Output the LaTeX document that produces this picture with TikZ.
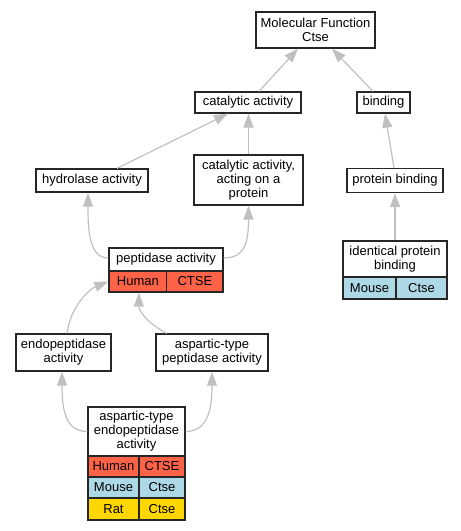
\documentclass[tikz,border=0pt]{standalone}
\usepackage{fontspec}
\setmainfont{Liberation Sans}
\usetikzlibrary{arrows.meta}
\definecolor{edgegray}{RGB}{192,192,192}
\definecolor{human}{RGB}{255,99,71}
\definecolor{mouse}{RGB}{173,216,230}
\definecolor{rat}{RGB}{255,215,0}
\newcommand\boxfont{\fontsize{13}{14}\selectfont}
\begin{document}
\begin{tikzpicture}[x=1pt,y=-1pt,
  box/.style={draw=black!85, line width=1.3pt, fill=white, inner sep=0pt, align=center, font=\boxfont},
  cell/.style={box, font=\boxfont},
  edge/.style={draw=edgegray, line width=1.2pt, -{Triangle[length=14pt,width=10pt,fill=edgegray]}}
]
\useasboundingbox (0,0) rectangle (461,531);
% nodes
\node[box, minimum width=119pt, minimum height=36pt] (mf) at (315.5,30) {Molecular Function\\Ctse};
\node[box, minimum width=106pt, minimum height=21pt] (cat) at (248,102.5) {catalytic activity};
\node[box, minimum width=53pt, minimum height=21pt] (bind) at (383.5,102.5) {binding};
\node[box, minimum width=109pt, minimum height=50pt] (catp) at (248.5,180) {catalytic activity,\\acting on a\\protein};
\node[box, minimum width=96pt, minimum height=24pt] (pbind) at (395,180.5) {protein binding};
\node[box, minimum width=112pt, minimum height=23pt] (hyd) at (92,180.5) {hydrolase activity};
% peptidase activity table
\node[box, minimum width=114pt, minimum height=23pt] (pephead) at (166,259.5) {peptidase activity};
\node[cell, fill=human, minimum width=57.7pt, minimum height=21pt] (pephuman) at (137.85,281.5) {Human};
\node[cell, fill=human, minimum width=56.3pt, minimum height=21pt] (pepctse) at (194.85,281.5) {CTSE};
% identical protein binding table
\node[box, minimum width=104pt, minimum height=36pt] (ipb) at (395,259) {identical protein\\binding};
\node[cell, fill=mouse, minimum width=53pt, minimum height=22pt] (ipbmouse) at (369.5,288) {Mouse};
\node[cell, fill=mouse, minimum width=51pt, minimum height=22pt] (ipbctse) at (421.5,288) {Ctse};
% endopeptidase / aspartic-type peptidase
\node[box, minimum width=95pt, minimum height=37pt] (endo) at (63.5,352.5) {endopeptidase\\activity};
\node[box, minimum width=112pt, minimum height=37pt] (asp) at (212,352.5) {aspartic-type\\peptidase activity};
% aspartic-type endopeptidase activity table
\node[box, minimum width=97pt, minimum height=49pt] (aspehead) at (136.5,431.5) {aspartic-type\\endopeptidase\\activity};
\node[cell, fill=human, minimum width=51pt, minimum height=21pt] (aspehuman) at (113.5,466.5) {Human};
\node[cell, fill=human, minimum width=46pt, minimum height=21pt] (aspehctse) at (162,466.5) {CTSE};
\node[cell, fill=mouse, minimum width=51pt, minimum height=21pt] (aspemouse) at (113.5,487.5) {Mouse};
\node[cell, fill=mouse, minimum width=46pt, minimum height=21pt] (aspemctse) at (162,487.5) {Ctse};
\node[cell, fill=rat, minimum width=51pt, minimum height=22pt] (asperat) at (113.5,509) {Rat};
\node[cell, fill=rat, minimum width=46pt, minimum height=22pt] (asperctse) at (162,509) {Ctse};
% edges
\draw[edge] ([xshift=11pt]cat.north) -- ([xshift=-17.5pt]mf.south);
\draw[edge] ([xshift=-10.5pt]bind.north) -- ([xshift=16.5pt]mf.south);
\draw[edge] ([xshift=25pt]hyd.north) -- ([xshift=-20pt]cat.south);
\draw[edge] (catp.north) -- (catp.north |- cat.south);
\draw[edge] ([xshift=-1pt]pbind.north) -- ([xshift=1.5pt]bind.south);
\draw[edge] (ipb.north) -- (pbind.south);
\draw[edge] ([yshift=1.5pt]pephead.west) .. controls +(-20,0) and +(0,35) .. ([xshift=-4pt]hyd.south);
\draw[edge] ([yshift=1.5pt]pephead.east) .. controls +(22,0) and +(0,35) .. (catp.south);
\draw[edge] ([xshift=3.5pt]endo.north) .. controls +(3,-25) and +(-20,8) .. (pephuman.west);
\draw[edge] ([xshift=-45pt]asp.north) .. controls +(-20,-10) and +(0,18) .. ([xshift=1pt]pephuman.south);
\draw[edge] (aspehead.west) .. controls +(-22,0) and +(0,38) .. ([xshift=-1.5pt]endo.south);
\draw[edge] (aspehead.east) .. controls +(22,0) and +(0,38) .. (asp.south);
\end{tikzpicture}
\end{document}
